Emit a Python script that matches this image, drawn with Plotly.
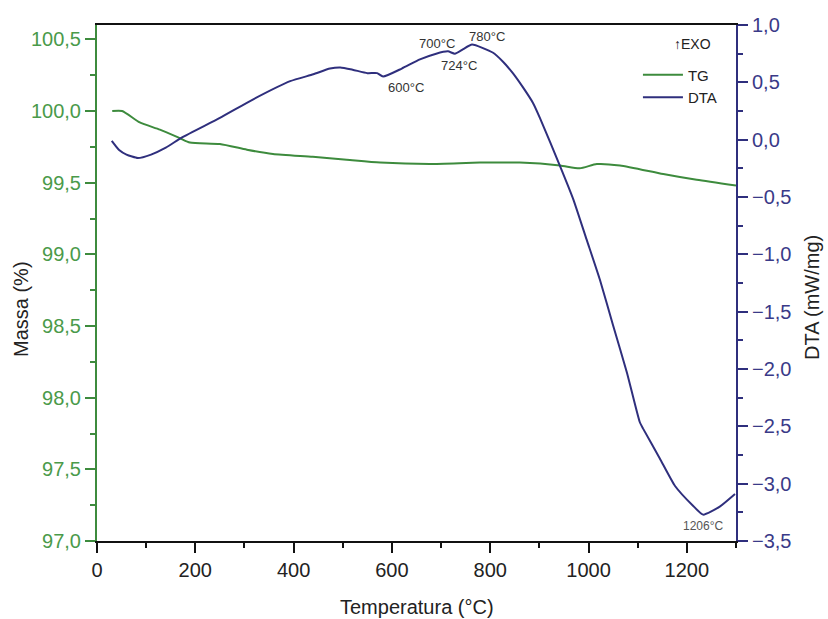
import plotly.graph_objects as go

# ---- data ----
tg_temp = [31, 51, 87, 128, 169, 189, 250, 305, 358, 439, 508, 576, 677, 779, 860, 942, 982, 1017, 1064, 1152, 1220, 1300]
tg_mass = [100.0, 100.0, 99.92, 99.87, 99.81, 99.78, 99.77, 99.73, 99.70, 99.68, 99.66, 99.64, 99.63, 99.64, 99.64, 99.62, 99.60, 99.63, 99.62, 99.56, 99.52, 99.48]

dta_temp = [30, 45, 60, 83, 110, 140, 173, 250, 317, 393, 440, 474, 495, 520, 550, 570, 582, 620, 657, 690, 714, 728, 745, 763, 805, 826, 846, 866, 887, 901, 942, 969, 996, 1023, 1050, 1078, 1104, 1111, 1145, 1176, 1212, 1233, 1267, 1298]
dta_val = [-0.01, -0.09, -0.13, -0.16, -0.13, -0.07, 0.02, 0.19, 0.35, 0.51, 0.57, 0.62, 0.63, 0.61, 0.58, 0.58, 0.55, 0.62, 0.70, 0.75, 0.77, 0.75, 0.79, 0.83, 0.76, 0.68, 0.58, 0.46, 0.32, 0.19, -0.23, -0.52, -0.87, -1.22, -1.62, -2.03, -2.46, -2.52, -2.78, -3.02, -3.19, -3.27, -3.20, -3.09]

x_ticks = [0, 200, 400, 600, 800, 1000, 1200]
x_ticktext = ["0", "200", "400", "600", "800", "1000", "1200"]
left_ticks = [97.0, 97.5, 98.0, 98.5, 99.0, 99.5, 100.0, 100.5]
left_ticktext = ["97,0", "97,5", "98,0", "98,5", "99,0", "99,5", "100,0", "100,5"]
right_ticks = [-3.5, -3.0, -2.5, -2.0, -1.5, -1.0, -0.5, 0.0, 0.5, 1.0]
right_ticktext = ["\u22123,5", "\u22123,0", "\u22122,5", "\u22122,0", "\u22121,5", "\u22121,0", "\u22120,5", "0,0", "0,5", "1,0"]

peak_labels = ["700°C", "780°C", "724°C", "600°C", "1206°C"]
peak_x = [691, 793, 736, 628, 1232]
peak_y = [0.835, 0.896, 0.643, 0.452, -3.37]

GREEN = "#3d8b3d"
GREEN_TXT = "#4a9a4a"
NAVY = "#2f2f7d"
NAVY_TXT = "#3a3a88"
FONT = "Arial, Liberation Sans, sans-serif"

fig = go.Figure()
fig.add_trace(go.Scatter(x=tg_temp, y=tg_mass, mode="lines", name="TG",
                         line=dict(color=GREEN, width=2, shape="spline", smoothing=0.6),
                         yaxis="y"))
fig.add_trace(go.Scatter(x=dta_temp, y=dta_val, mode="lines", name="DTA",
                         line=dict(color=NAVY, width=2, shape="spline", smoothing=0.5),
                         yaxis="y2"))

for t, xx, yy in zip(peak_labels, peak_x, peak_y):
    fig.add_annotation(x=xx, y=yy, xref="x", yref="y2", text=t, showarrow=False,
                       font=dict(family=FONT, size=13 if t != "1206°C" else 12,
                                 color="#333333" if t != "1206°C" else "#555555"))

fig.add_annotation(x=1212, y=0.835, xref="x", yref="y2", text="\u2191EXO", showarrow=False,
                   font=dict(family=FONT, size=14, color="#222222"))

# axis titles placed as annotations (paper coords derived from pixel layout)
PL, PR, PT, PB = 97, 736, 25, 541
def px_x(p):
    return (p - PL) / (PR - PL)
def px_y(p):
    return (PB - p) / (PB - PT)

fig.add_annotation(x=px_x(21), y=px_y(309), xref="paper", yref="paper", text="Massa (%)",
                   textangle=-90, showarrow=False, xanchor="center", yanchor="middle",
                   font=dict(family=FONT, size=20, color="#222222"))
fig.add_annotation(x=px_x(812), y=px_y(298), xref="paper", yref="paper", text="DTA (mW/mg)",
                   textangle=-90, showarrow=False, xanchor="center", yanchor="middle",
                   font=dict(family=FONT, size=20, color="#222222"))
fig.add_annotation(x=px_x(417), y=px_y(607), xref="paper", yref="paper", text="Temperatura (°C)",
                   showarrow=False, xanchor="center", yanchor="middle",
                   font=dict(family=FONT, size=20, color="#222222"))

fig.update_layout(
    width=828, height=619,
    margin=dict(l=PL, r=828 - PR, t=PT, b=619 - PB, autoexpand=False),
    paper_bgcolor="white", plot_bgcolor="white",
    font=dict(family=FONT, size=20, color="#222222"),
    showlegend=True,
    legend=dict(x=0.978, y=0.935, xanchor="right", yanchor="top",
                bgcolor="rgba(0,0,0,0)", font=dict(family=FONT, size=15, color="#222222"),
                tracegroupgap=0, itemwidth=40),
    xaxis=dict(range=[0, 1300], tickvals=x_ticks, ticktext=x_ticktext,
               showgrid=False, zeroline=False, automargin=False,
               showline=True, linecolor="#111111", linewidth=2, mirror=True,
               ticks="outside", ticklen=10, tickwidth=2, tickcolor="#111111",
               minor=dict(dtick=100, tick0=0, ticks="outside", ticklen=5, tickwidth=2, tickcolor="#111111"),
               tickfont=dict(family=FONT, size=20, color="#222222")),
    yaxis=dict(range=[97.0, 100.6], tickvals=left_ticks, ticktext=left_ticktext,
               showgrid=False, zeroline=False, automargin=False,
               showline=True, linecolor=GREEN, linewidth=2,
               ticks="outside", ticklen=10, tickwidth=2, tickcolor=GREEN,
               minor=dict(dtick=0.25, tick0=97.0, ticks="outside", ticklen=5, tickwidth=2, tickcolor=GREEN),
               tickfont=dict(family=FONT, size=20, color=GREEN_TXT)),
    yaxis2=dict(range=[-3.5, 1.0], tickvals=right_ticks, ticktext=right_ticktext,
                overlaying="y", side="right", anchor="x",
                showgrid=False, zeroline=False, automargin=False,
                showline=True, linecolor=NAVY, linewidth=2,
                ticks="outside", ticklen=10, tickwidth=2, tickcolor=NAVY,
                minor=dict(dtick=0.25, tick0=-3.5, ticks="outside", ticklen=5, tickwidth=2, tickcolor=NAVY),
                tickfont=dict(family=FONT, size=20, color=NAVY_TXT)),
)

fig.write_html("out.html")
